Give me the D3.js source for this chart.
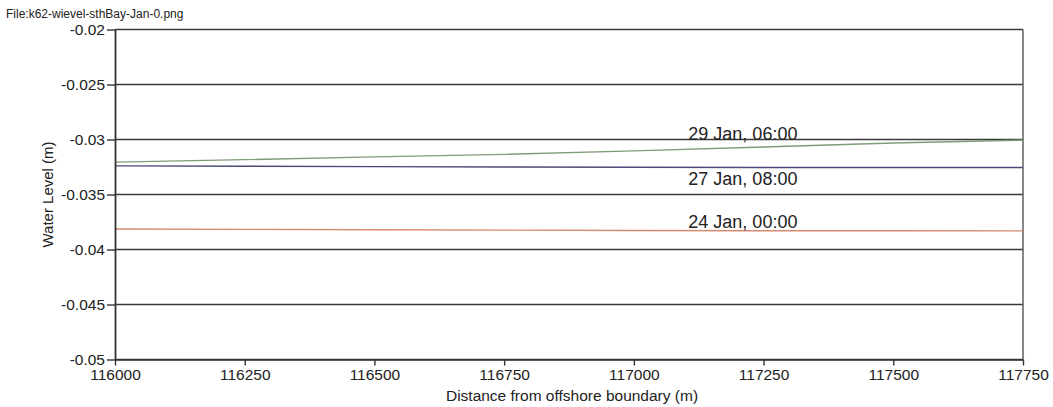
<!DOCTYPE html>
<html>
<head>
<meta charset="utf-8">
<script src="https://cdn.jsdelivr.net/npm/d3@7"></script>
<style>
  html, body { margin: 0; padding: 0; background: #fff; }
  svg { display: block; font-family: "Liberation Sans", Arial, Helvetica, sans-serif; }
</style>
</head>
<body>
<svg id="chart" width="1053" height="407"></svg>
<script>
// Distance along the transect (m)
const distance = [116000, 116250, 116500, 116750, 117000, 117250, 117500, 117750];

// Water level (m) for each snapshot
const level29Jan0600 = [-0.03206, -0.03183, -0.03158, -0.03135, -0.03103, -0.03068, -0.03032, -0.03006];
const level27Jan0800 = [-0.03240, -0.03243, -0.03247, -0.03250, -0.03252, -0.03254, -0.03255, -0.03255];
const level24Jan0000 = [-0.03813, -0.03817, -0.03821, -0.03824, -0.03827, -0.03829, -0.03830, -0.03831];

const seriesNames = ["29 Jan, 06:00", "27 Jan, 08:00", "24 Jan, 00:00"];

const xTicks = [116000, 116250, 116500, 116750, 117000, 117250, 117500, 117750];
const yTicks = [-0.02, -0.025, -0.03, -0.035, -0.04, -0.045, -0.05];
const yTickLabels = ["-0.02", "-0.025", "-0.03", "-0.035", "-0.04", "-0.045", "-0.05"];

const fileLabel = "File:k62-wievel-sthBay-Jan-0.png";
const xTitle = "Distance from offshore boundary (m)";
const yTitle = "Water Level (m)";

(function draw() {
const svg = d3.select("#chart");
const plotLeft = 115, plotRight = 1023, plotTop = 29.5, plotBottom = 359.5;

const x = d3.scaleLinear().domain([116000, 117750]).range([plotLeft, plotRight]);
const y = d3.scaleLinear().domain([-0.05, -0.02]).range([plotBottom, plotTop]);

// file name caption
svg.append("text")
  .attr("x", 6).attr("y", 18)
  .attr("font-size", 12)
  .attr("fill", "#222")
  .text(fileLabel);

// horizontal grid lines
svg.append("g")
  .selectAll("line")
  .data(yTicks)
  .join("line")
  .attr("x1", plotLeft).attr("x2", plotRight)
  .attr("y1", d => y(d)).attr("y2", d => y(d))
  .attr("stroke", "#3a3a3a")
  .attr("stroke-width", 1.4);

// right border
svg.append("line")
  .attr("x1", plotRight).attr("x2", plotRight)
  .attr("y1", plotTop).attr("y2", plotBottom)
  .attr("stroke", "#555").attr("stroke-width", 1.4);

// data lines
const lineGen = vals => d3.line()
  .x((d, i) => x(distance[i]))
  .y(d => y(d))(vals);

const seriesData = [
  { vals: level29Jan0600, color: "#7f9c78" },
  { vals: level27Jan0800, color: "#4a4a7c" },
  { vals: level24Jan0000, color: "#d58a70" }
];

svg.append("g")
  .selectAll("path")
  .data(seriesData)
  .join("path")
  .attr("d", d => lineGen(d.vals))
  .attr("fill", "none")
  .attr("stroke", d => d.color)
  .attr("stroke-width", 1.4);

// series labels
const labelPos = [
  { x: 117105, y: -0.0300 },
  { x: 117105, y: -0.03418 },
  { x: 117105, y: -0.03800 }
];
svg.append("g")
  .selectAll("text")
  .data(seriesNames)
  .join("text")
  .attr("x", (d, i) => x(labelPos[i].x))
  .attr("y", (d, i) => y(labelPos[i].y))
  .attr("font-size", 18)
  .attr("fill", "#222")
  .text(d => d);

// axes
const xAxis = d3.axisBottom(x)
  .tickValues(xTicks)
  .tickFormat(d3.format("d"))
  .tickSizeInner(6).tickSizeOuter(0).tickPadding(3);
const gx = svg.append("g")
  .attr("transform", `translate(0,${plotBottom})`)
  .call(xAxis);
gx.select(".domain").attr("stroke", "#333").attr("stroke-width", 1.6);
gx.selectAll(".tick line").attr("stroke", "#333").attr("stroke-width", 1.4);
gx.selectAll(".tick text")
  .attr("font-size", 15.5)
  .attr("font-family", "Liberation Sans, Arial, sans-serif")
  .attr("fill", "#222");

const yAxis = d3.axisLeft(y)
  .tickValues(yTicks)
  .tickFormat((d, i) => yTickLabels[i])
  .tickSizeInner(8).tickSizeOuter(0).tickPadding(2);
const gy = svg.append("g")
  .attr("transform", `translate(${plotLeft},0)`)
  .call(yAxis);
gy.select(".domain").attr("stroke", "#333").attr("stroke-width", 1.8);
gy.selectAll(".tick line").attr("stroke", "#333").attr("stroke-width", 1.4);
gy.selectAll(".tick text")
  .attr("font-size", 15.5)
  .attr("font-family", "Liberation Sans, Arial, sans-serif")
  .attr("fill", "#222");

// axis titles
svg.append("text")
  .attr("x", (plotLeft + plotRight) / 2 + 3)
  .attr("y", 401)
  .attr("text-anchor", "middle")
  .attr("font-size", 15.5)
  .attr("fill", "#222")
  .text(xTitle);

svg.append("text")
  .attr("transform", `translate(53,${(plotTop + plotBottom) / 2}) rotate(-90)`)
  .attr("text-anchor", "middle")
  .attr("font-size", 15)
  .attr("fill", "#222")
  .text(yTitle);
})();
</script>
</body>
</html>
